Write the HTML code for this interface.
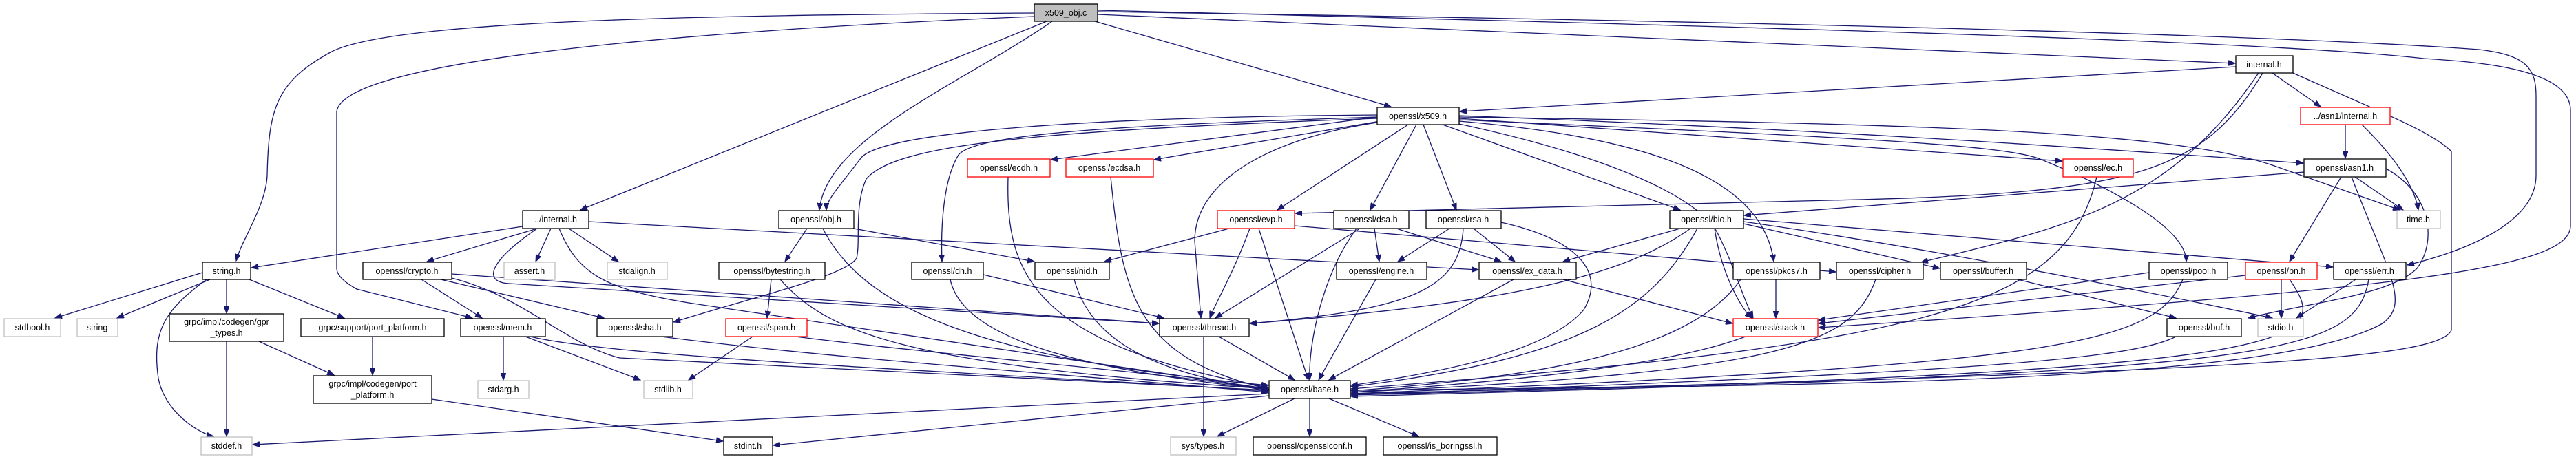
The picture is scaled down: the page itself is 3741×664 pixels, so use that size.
<!DOCTYPE html>
<html><head><meta charset="utf-8"><style>
html,body{margin:0;padding:0;background:#fff;}
svg{display:block;}
text{font-family:"Liberation Sans",sans-serif;font-size:12.5px;fill:#000;}
.e{fill:none;stroke:#191970;stroke-width:1.3;}
.n{fill:#fff;stroke:#000;stroke-width:1.3;}
.g{fill:#fff;stroke:#bfbfbf;stroke-width:1.3;}
.r{fill:#fff;stroke:#ff0000;stroke-width:1.3;}
</style></head><body>
<svg width="3741" height="664" viewBox="0 0 3741 664" xmlns="http://www.w3.org/2000/svg">
<defs><marker id="a" markerUnits="userSpaceOnUse" markerWidth="11" markerHeight="8" refX="10" refY="4" orient="auto"><path d="M0,0 L10,4 L0,8 z" fill="#191970" stroke="#191970"/></marker></defs>
<g marker-end="url(#a)">
<path class="e" d="M1502,19 C1000,22 560,30 478,77 C400,120 390,160 388,255 C386,300 350,350 343,379"/>
<path class="e" d="M1502,24 C1100,40 500,80 489,162 L489,390 C489,400 500,410 518,420 L686,462"/>
<path class="e" d="M1520,31 L843,305"/>
<path class="e" d="M1528,31 C1400,120 1200,200 1190,305"/>
<path class="e" d="M1590,31 L2020,155"/>
<path class="e" d="M1594,21 L3246,92"/>
<path class="e" d="M1594,17 C2500,30 3300,50 3600,72 C3670,80 3683,100 3683,140 L3683,255 C3683,330 3560,370 3496,385"/>
<path class="e" d="M1594,15 C2600,40 3300,60 3520,85 C3600,90 3733,100 3733,160 L3733,328 C3733,390 3500,420 2641,476"/>
<path class="e" d="M2000,170 L1526,232"/>
<path class="e" d="M2010,175 L1676,232"/>
<path class="e" d="M2045,181 L1855,305"/>
<path class="e" d="M2057,181 L1990,305"/>
<path class="e" d="M2067,181 L2115,305"/>
<path class="e" d="M2095,181 L2440,305"/>
<path class="e" d="M2000,170 C1700,180 1420,190 1392,225 C1370,260 1366,330 1368,380"/>
<path class="e" d="M2000,167 C1600,170 1280,190 1250,230 C1220,270 1200,290 1200,305"/>
<path class="e" d="M2000,172 C1500,190 1300,210 1258,260 C1240,300 1250,350 1244,375 C1230,400 1100,430 978,468"/>
<path class="e" d="M2000,178 C1850,200 1735,260 1735,350 L1744,462"/>
<path class="e" d="M2119,168 C2700,190 3100,220 3345,237"/>
<path class="e" d="M2119,172 L2995,234"/>
<path class="e" d="M2119,170 C2800,180 3150,190 3300,240 L3485,305"/>
<path class="e" d="M2119,174 C2700,200 2900,210 2960,230 C3060,270 3175,330 3175,380"/>
<path class="e" d="M2119,176 C2400,200 2560,260 2576,380"/>
<path class="e" d="M2119,180 C2350,230 2470,290 2495,340 C2520,390 2530,430 2546,462"/>
<path class="e" d="M759,329 L365,389"/>
<path class="e" d="M780,332 L620,380"/>
<path class="e" d="M800,332 L778,380"/>
<path class="e" d="M826,332 L898,380"/>
<path class="e" d="M855,322 L2147,392"/>
<path class="e" d="M780,332 C710,380 700,410 740,412 L1683,470"/>
<path class="e" d="M812,332 C840,400 880,420 1000,440 L1842,565"/>
<path class="e" d="M1172,332 L1140,380"/>
<path class="e" d="M1240,332 L1502,380"/>
<path class="e" d="M1195,332 C1250,440 1400,520 1842,560"/>
<path class="e" d="M612,406 L700,462"/>
<path class="e" d="M640,406 L877,462"/>
<path class="e" d="M656,398 L1683,470"/>
<path class="e" d="M656,404 C760,430 820,500 900,520 L1842,567"/>
<path class="e" d="M294,396 L80,462"/>
<path class="e" d="M305,406 L170,462"/>
<path class="e" d="M329,406 L329,455"/>
<path class="e" d="M362,406 L500,462"/>
<path class="e" d="M300,406 C240,450 220,480 230,550 C240,600 290,630 310,634"/>
<path class="e" d="M329,496 L329,634"/>
<path class="e" d="M376,496 L485,545"/>
<path class="e" d="M541,489 L541,545"/>
<path class="e" d="M627,580 L1050,641"/>
<path class="e" d="M731,489 L731,552"/>
<path class="e" d="M763,489 L930,552"/>
<path class="e" d="M770,489 C900,520 1400,540 1842,568"/>
<path class="e" d="M960,489 C1200,520 1500,540 1842,570"/>
<path class="e" d="M1120,406 L1114,462"/>
<path class="e" d="M1133,406 C1200,480 1300,530 1842,565"/>
<path class="e" d="M1093,489 L1000,552"/>
<path class="e" d="M1155,489 C1400,520 1800,550 1842,570"/>
<path class="e" d="M1843,572 L367,646"/>
<path class="e" d="M1843,575 L1123,647"/>
<path class="e" d="M1464,257 C1460,400 1500,500 1842,563"/>
<path class="e" d="M1613,257 C1630,430 1650,520 1842,565"/>
<path class="e" d="M1428,399 L1690,462"/>
<path class="e" d="M1380,406 C1400,500 1600,540 1842,566"/>
<path class="e" d="M1560,406 C1580,480 1650,540 1842,566"/>
<path class="e" d="M1785,332 L1604,380"/>
<path class="e" d="M1815,332 C1790,400 1765,440 1757,462"/>
<path class="e" d="M1828,332 L1900,552"/>
<path class="e" d="M1880,328 L2666,395"/>
<path class="e" d="M1975,332 L1765,462"/>
<path class="e" d="M1996,332 L2003,380"/>
<path class="e" d="M2028,332 L2180,380"/>
<path class="e" d="M1970,332 C1920,400 1900,500 1902,552"/>
<path class="e" d="M2105,332 L2030,380"/>
<path class="e" d="M2140,332 L2200,380"/>
<path class="e" d="M2125,332 C2120,420 2050,450 1815,470"/>
<path class="e" d="M2180,323 C2300,350 2330,400 2300,450 C2250,510 2100,540 1962,560"/>
<path class="e" d="M1998,406 L1915,552"/>
<path class="e" d="M2198,406 L1930,552"/>
<path class="e" d="M2270,406 L2516,470"/>
<path class="e" d="M1748,489 L1748,634"/>
<path class="e" d="M1770,489 L1880,552"/>
<path class="e" d="M1880,579 L1768,634"/>
<path class="e" d="M1902,579 L1902,634"/>
<path class="e" d="M1930,579 L2060,634"/>
<path class="e" d="M2440,332 L2270,380"/>
<path class="e" d="M2455,332 C2360,400 2200,440 1815,470"/>
<path class="e" d="M2465,332 C2400,450 2300,520 1962,562"/>
<path class="e" d="M2490,332 C2500,400 2530,450 2544,462"/>
<path class="e" d="M2532,325 L2817,390"/>
<path class="e" d="M2532,318 L3388,388"/>
<path class="e" d="M2532,322 C2800,360 3100,420 3300,462"/>
<path class="e" d="M3346,250 L2533,313"/>
<path class="e" d="M3400,257 L3325,380"/>
<path class="e" d="M3420,257 L3490,305"/>
<path class="e" d="M3415,257 C3470,400 3500,440 3460,470 C3300,560 2600,560 1962,567"/>
<path class="e" d="M3465,245 C3530,280 3540,350 3510,390 C3470,430 3350,440 3265,462"/>
<path class="e" d="M3247,97 L2120,162"/>
<path class="e" d="M3300,106 L3370,155"/>
<path class="e" d="M3330,106 C3450,160 3530,190 3560,220 L3560,480 C3540,520 3300,540 1962,572"/>
<path class="e" d="M3286,106 C3200,250 3100,280 2700,290 L1881,310"/>
<path class="e" d="M3280,106 C3150,300 3000,330 2790,381"/>
<path class="e" d="M3406,181 L3406,230"/>
<path class="e" d="M3430,181 C3490,240 3508,280 3512,305"/>
<path class="e" d="M3045,257 C3000,450 2800,500 1962,565"/>
<path class="e" d="M2579,406 L2579,462"/>
<path class="e" d="M2528,406 C2450,520 2200,550 1962,568"/>
<path class="e" d="M2724,406 C2690,500 2600,540 1962,570"/>
<path class="e" d="M2930,406 L3160,462"/>
<path class="e" d="M3121,396 L2641,465"/>
<path class="e" d="M3170,406 C3130,500 3000,530 1962,572"/>
<path class="e" d="M3313,406 L3313,462"/>
<path class="e" d="M3261,400 L2641,470"/>
<path class="e" d="M3325,406 C3390,500 3370,540 1962,574"/>
<path class="e" d="M3421,406 L3335,462"/>
<path class="e" d="M3440,406 C3420,520 3300,540 1962,576"/>
<path class="e" d="M2535,489 C2400,540 2100,560 1962,570"/>
<path class="e" d="M3160,489 C3100,520 2900,540 1962,574"/>
</g>
<g text-anchor="middle">
<rect x="1502" y="6" width="92" height="25" fill="#bfbfbf" stroke="#000" stroke-width="1.3"/><text x="1548" y="23">x509_obj.c</text>
<rect class="n" x="3247" y="81" width="83" height="25"/><text x="3288" y="98">internal.h</text>
<rect class="n" x="2000" y="156" width="119" height="25"/><text x="2059" y="173">openssl/x509.h</text>
<rect class="r" x="3341" y="156" width="130" height="25"/><text x="3406" y="173">../asn1/internal.h</text>
<rect class="r" x="1405" y="231" width="120" height="26"/><text x="1465" y="248">openssl/ecdh.h</text>
<rect class="r" x="1548" y="231" width="127" height="26"/><text x="1611" y="248">openssl/ecdsa.h</text>
<rect class="r" x="2996" y="231" width="102" height="26"/><text x="3047" y="248">openssl/ec.h</text>
<rect class="n" x="3346" y="231" width="119" height="26"/><text x="3405" y="248">openssl/asn1.h</text>
<rect class="n" x="759" y="306" width="96" height="26"/><text x="807" y="323">../internal.h</text>
<rect class="n" x="1131" y="306" width="109" height="26"/><text x="1185" y="323">openssl/obj.h</text>
<rect class="r" x="1768" y="306" width="112" height="26"/><text x="1824" y="323">openssl/evp.h</text>
<rect class="n" x="1937" y="306" width="109" height="26"/><text x="1991" y="323">openssl/dsa.h</text>
<rect class="n" x="2071" y="306" width="109" height="26"/><text x="2125" y="323">openssl/rsa.h</text>
<rect class="n" x="2425" y="306" width="107" height="26"/><text x="2478" y="323">openssl/bio.h</text>
<rect class="g" x="3481" y="306" width="63" height="26"/><text x="3512" y="323">time.h</text>
<rect class="n" x="294" y="381" width="70" height="25"/><text x="329" y="398">string.h</text>
<rect class="n" x="527" y="381" width="129" height="25"/><text x="591" y="398">openssl/crypto.h</text>
<rect class="g" x="732" y="381" width="74" height="25"/><text x="769" y="398">assert.h</text>
<rect class="g" x="882" y="381" width="87" height="25"/><text x="925" y="398">stdalign.h</text>
<rect class="n" x="1044" y="381" width="154" height="25"/><text x="1121" y="398">openssl/bytestring.h</text>
<rect class="n" x="1324" y="381" width="104" height="25"/><text x="1376" y="398">openssl/dh.h</text>
<rect class="n" x="1503" y="381" width="108" height="25"/><text x="1557" y="398">openssl/nid.h</text>
<rect class="n" x="1941" y="381" width="131" height="25"/><text x="2006" y="398">openssl/engine.h</text>
<rect class="n" x="2148" y="381" width="141" height="25"/><text x="2218" y="398">openssl/ex_data.h</text>
<rect class="n" x="2517" y="381" width="126" height="25"/><text x="2580" y="398">openssl/pkcs7.h</text>
<rect class="n" x="2667" y="381" width="126" height="25"/><text x="2730" y="398">openssl/cipher.h</text>
<rect class="n" x="2818" y="381" width="125" height="25"/><text x="2880" y="398">openssl/buffer.h</text>
<rect class="n" x="3121" y="381" width="114" height="25"/><text x="3178" y="398">openssl/pool.h</text>
<rect class="r" x="3261" y="381" width="104" height="25"/><text x="3313" y="398">openssl/bn.h</text>
<rect class="n" x="3389" y="381" width="105" height="25"/><text x="3441" y="398">openssl/err.h</text>
<rect class="g" x="6" y="463" width="82" height="26"/><text x="47" y="480">stdbool.h</text>
<rect class="g" x="112" y="463" width="59" height="26"/><text x="141" y="480">string</text>
<rect class="n" x="246" y="456" width="166" height="40"/><text x="329" y="472">grpc/impl/codegen/gpr</text><text x="329" y="488">_types.h</text>
<rect class="n" x="437" y="463" width="208" height="26"/><text x="541" y="480">grpc/support/port_platform.h</text>
<rect class="n" x="669" y="463" width="123" height="26"/><text x="730" y="480">openssl/mem.h</text>
<rect class="n" x="867" y="463" width="110" height="26"/><text x="922" y="480">openssl/sha.h</text>
<rect class="r" x="1054" y="463" width="118" height="26"/><text x="1113" y="480">openssl/span.h</text>
<rect class="n" x="1684" y="463" width="130" height="26"/><text x="1749" y="480">openssl/thread.h</text>
<rect class="r" x="2517" y="463" width="123" height="26"/><text x="2578" y="480">openssl/stack.h</text>
<rect class="n" x="3147" y="463" width="108" height="26"/><text x="3201" y="480">openssl/buf.h</text>
<rect class="g" x="3279" y="463" width="66" height="26"/><text x="3312" y="480">stdio.h</text>
<rect class="n" x="455" y="546" width="172" height="40"/><text x="541" y="562">grpc/impl/codegen/port</text><text x="541" y="578">_platform.h</text>
<rect class="g" x="694" y="553" width="74" height="26"/><text x="731" y="570">stdarg.h</text>
<rect class="g" x="935" y="553" width="71" height="26"/><text x="970" y="570">stdlib.h</text>
<rect class="n" x="1843" y="553" width="118" height="26"/><text x="1902" y="570">openssl/base.h</text>
<rect class="g" x="292" y="635" width="74" height="26"/><text x="329" y="652">stddef.h</text>
<rect class="n" x="1051" y="635" width="71" height="26"/><text x="1086" y="652">stdint.h</text>
<rect class="g" x="1700" y="635" width="95" height="26"/><text x="1747" y="652">sys/types.h</text>
<rect class="n" x="1820" y="635" width="164" height="26"/><text x="1902" y="652">openssl/opensslconf.h</text>
<rect class="n" x="2009" y="635" width="165" height="26"/><text x="2091" y="652">openssl/is_boringssl.h</text>
</g>
</svg>
</body></html>
